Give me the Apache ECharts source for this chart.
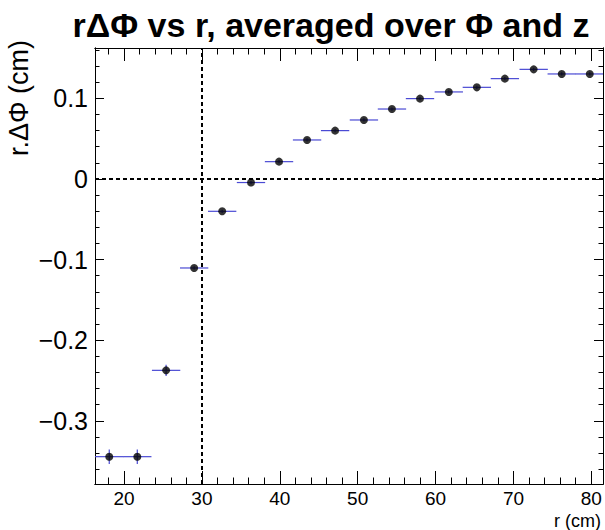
<!DOCTYPE html>
<html><head><meta charset="utf-8">
<script src="https://cdn.jsdelivr.net/npm/echarts@6/dist/echarts.min.js"></script>
<style>html,body{margin:0;padding:0;background:#fff}#c{width:605px;height:530px}</style>
</head><body><div id="c"></div>
<script>
// ---- data ----
const rCenters = [18.1, 21.7, 25.4, 29.0, 32.6, 36.3, 39.9, 43.5, 47.1, 50.8, 54.4, 58.0, 61.7, 65.3, 68.9, 72.6, 76.2, 79.8];
const binHalfWidth = 1.82;
const profileValues = [-0.3445, -0.3445, -0.2374, -0.1104, -0.0401, -0.0044, 0.0215, 0.0484, 0.0600, 0.0732, 0.0868, 0.0997, 0.1080, 0.1137, 0.1245, 0.1360, 0.1303, 0.1303];
const profileErrors = [0.009, 0.009, 0.007, 0.002, 0.002, 0.002, 0.002, 0.002, 0.002, 0.002, 0.002, 0.002, 0.002, 0.002, 0.002, 0.002, 0.002, 0.002];
const xMajorTicks = [20, 30, 40, 50, 60, 70, 80];
const xMinorTicks = [18, 22, 24, 26, 28, 32, 34, 36, 38, 42, 44, 46, 48, 52, 54, 56, 58, 62, 64, 66, 68, 72, 74, 76, 78];
const yMajorTicks = [-0.3, -0.2, -0.1, 0, 0.1];
const yTickLabels = ['\u22120.3', '\u22120.2', '\u22120.1', '0', '0.1'];
const yMinorTicks = [-0.36, -0.34, -0.32, -0.28, -0.26, -0.24, -0.22, -0.18, -0.16, -0.14, -0.12, -0.08, -0.06, -0.04, -0.02, 0.02, 0.04, 0.06, 0.08, 0.12, 0.14, 0.16];
const refLineR = 30;
const refLineY = 0;
const titleText = 'r\u0394\u03A6 vs r, averaged over \u03A6 and z';
const yTitle = 'r.\u0394\u03A6 (cm)';
const xTitle = 'r (cm)';

const X_MIN = 16.27, X_MAX = 81.5, Y_MIN = -0.3784, Y_MAX = 0.1625;
const FONT = '"Liberation Sans", Arial, Helvetica, sans-serif';

function xAx(pos, ticks, len, labels) {
  return {
    type: 'value', position: pos, min: X_MIN, max: X_MAX,
    axisLine: { show: true, onZero: false, lineStyle: { color: '#000', width: 1 } },
    axisTick: { show: true, inside: true, length: len, customValues: ticks, lineStyle: { color: '#000', width: 1 } },
    axisLabel: labels ? { show: true, customValues: xMajorTicks, margin: 5, color: '#000', fontFamily: FONT, fontSize: 19, formatter: v => String(Math.round(v)) } : { show: false },
    splitLine: { show: false }
  };
}
function yAx(pos, ticks, len, labels) {
  return {
    type: 'value', position: pos, min: Y_MIN, max: Y_MAX,
    axisLine: { show: true, onZero: false, lineStyle: { color: '#000', width: 1 } },
    axisTick: { show: true, inside: true, length: len, customValues: ticks, lineStyle: { color: '#000', width: 1 } },
    axisLabel: labels ? {
      show: true, customValues: yMajorTicks, margin: 7, color: '#000', fontFamily: FONT, fontSize: 25,
      formatter: v => { let best = 0; yMajorTicks.forEach((t, i) => { if (Math.abs(t - v) < Math.abs(yMajorTicks[best] - v)) best = i; }); return yTickLabels[best]; }
    } : { show: false },
    splitLine: { show: false }
  };
}

const chart = echarts.init(document.getElementById('c'), null, { renderer: 'svg', width: 605, height: 530 });
chart.setOption({
  animation: false,
  backgroundColor: '#fff',
  grid: { left: 95, top: 48, right: 2, bottom: 46, containLabel: false },
  xAxis: [
    xAx('bottom', xMajorTicks, 13, true),
    xAx('bottom', xMinorTicks, 6.5, false),
    xAx('top', xMajorTicks, 13, false),
    xAx('top', xMinorTicks, 6.5, false)
  ],
  yAxis: [
    yAx('left', yMajorTicks, 9, true),
    yAx('left', yMinorTicks, 4.5, false),
    yAx('right', yMajorTicks, 9, false),
    yAx('right', yMinorTicks, 4.5, false)
  ],
  graphic: [
    { type: 'text', x: 331, y: 25, style: { text: titleText, fill: '#000', font: 'bold 34px ' + FONT, textAlign: 'center', textVerticalAlign: 'middle' } },
    { type: 'text', x: 19, y: 40, rotation: Math.PI / 2, style: { text: yTitle, fill: '#000', font: '27px ' + FONT, textAlign: 'right', textVerticalAlign: 'middle' } },
    { type: 'text', x: 601, y: 521, style: { text: xTitle, fill: '#000', font: '18px ' + FONT, textAlign: 'right', textVerticalAlign: 'middle' } }
  ],
  series: [
    {
      type: 'custom', xAxisIndex: 0, yAxisIndex: 0, clip: true, z: 2,
      data: rCenters.map((r, i) => [r, profileValues[i], profileErrors[i]]),
      renderItem: function (params, api) {
        const x = api.value(0), y = api.value(1), e = api.value(2);
        const l = api.coord([x - binHalfWidth, y]), r = api.coord([x + binHalfWidth, y]);
        const t = api.coord([x, y + e]), b = api.coord([x, y - e]);
        return { type: 'group', children: [
          { type: 'line', shape: { x1: l[0], y1: l[1], x2: r[0], y2: r[1] }, style: { stroke: '#4a4ad4', lineWidth: 1.2 } },
          { type: 'line', shape: { x1: t[0], y1: t[1], x2: b[0], y2: b[1] }, style: { stroke: '#4a4ad4', lineWidth: 1.2 } }
        ] };
      }
    },
    {
      type: 'scatter', xAxisIndex: 0, yAxisIndex: 0, z: 3,
      symbol: 'circle', symbolSize: 8,
      itemStyle: { color: '#000' },
      data: rCenters.map((r, i) => [r, profileValues[i]]),
      markLine: {
        silent: true, symbol: 'none', label: { show: false }, animation: false,
        lineStyle: { color: '#000', width: 2, type: [4, 3] },
        data: [{ xAxis: refLineR }, { yAxis: refLineY }]
      }
    }
  ]
});
</script></body></html>
